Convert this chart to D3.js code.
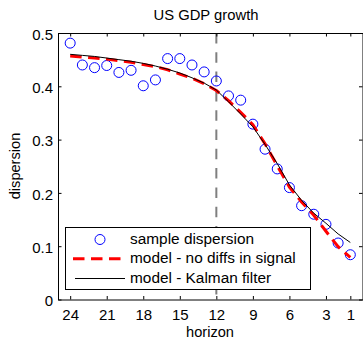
<!DOCTYPE html>
<html>
<head>
<meta charset="utf-8">
<script src="https://cdn.jsdelivr.net/npm/d3@7"></script>
<style>
  html, body { margin: 0; padding: 0; background: #fff; }
  svg { display: block; font-family: "Liberation Sans", Arial, Helvetica, sans-serif; }
</style>
</head>
<body>
<svg id="chart" width="363" height="339"></svg>
<script>
// ---- data ----
const title = "US GDP growth";
const xLabel = "horizon";
const yLabel = "dispersion";
const horizons = [24, 23, 22, 21, 20, 19, 18, 17, 16, 15, 14, 13, 12, 11, 10, 9, 8, 7, 6, 5, 4, 3, 2, 1];
const sampleDispersion = [0.481, 0.440, 0.435, 0.439, 0.426, 0.430, 0.401, 0.412, 0.452, 0.452, 0.440, 0.427,
                          0.410, 0.382, 0.374, 0.329, 0.282, 0.245, 0.210, 0.176, 0.160, 0.141, 0.106, 0.084];
const modelNoDiffs = [0.457, 0.455, 0.453, 0.451, 0.448, 0.445, 0.441, 0.437, 0.431, 0.423, 0.415, 0.405,
                      0.392, 0.373, 0.351, 0.328, 0.292, 0.251, 0.211, 0.183, 0.158, 0.128, 0.099, 0.079];
const modelKalman = [0.460, 0.458, 0.456, 0.453, 0.450, 0.447, 0.443, 0.438, 0.432, 0.425, 0.416, 0.406,
                     0.393, 0.371, 0.348, 0.324, 0.291, 0.255, 0.215, 0.186, 0.162, 0.143, 0.123, 0.107];
const xTicks = [24, 21, 18, 15, 12, 9, 6, 3, 1];
const yTicks = [0, 0.1, 0.2, 0.3, 0.4, 0.5];
const xDomain = [25, 0];
const yDomain = [0, 0.5];
const markerHorizon = 12;
const legendLabels = ["sample dispersion", "model - no diffs in signal", "model - Kalman filter"];

// ---- layout ----
const svg = d3.select("#chart");
const plotL = 58, plotR = 362.5, plotT = 33, plotB = 299.5;
const x = d3.scaleLinear().domain(xDomain).range([plotL, plotR]);
const y = d3.scaleLinear().domain(yDomain).range([plotB, plotT]);
const tickLen = 3.5;

// vertical dashed marker
svg.append("line")
  .attr("x1", x(markerHorizon)).attr("x2", x(markerHorizon))
  .attr("y1", y(yDomain[1])).attr("y2", y(yDomain[0]))
  .attr("stroke", "#7f7f7f").attr("stroke-width", 2)
  .attr("stroke-dasharray", "10.5,8.8");

// sample circles
svg.append("g").selectAll("circle")
  .data(horizons.map((h, i) => [h, sampleDispersion[i]]))
  .join("circle")
  .attr("cx", d => x(d[0])).attr("cy", d => y(d[1]))
  .attr("r", 5)
  .attr("fill", "none").attr("stroke", "#0000ff").attr("stroke-width", 1);

const line = d3.line().x(d => x(d[0])).y(d => y(d[1]));

svg.append("path")
  .datum(horizons.map((h, i) => [h, modelNoDiffs[i]]))
  .attr("d", line)
  .attr("fill", "none").attr("stroke", "#ff0000").attr("stroke-width", 3)
  .attr("stroke-dasharray", "11.5,6.5");

svg.append("path")
  .datum(horizons.map((h, i) => [h, modelKalman[i]]))
  .attr("d", line)
  .attr("fill", "none").attr("stroke", "#000").attr("stroke-width", 1);

// axes (box with inward ticks)
const axisFont = "15px";
const gB = svg.append("g").attr("transform", `translate(0,${plotB})`)
  .call(d3.axisBottom(x).tickValues(xTicks).tickSizeInner(-tickLen).tickSizeOuter(0).tickPadding(8));
const gT = svg.append("g").attr("transform", `translate(0,${plotT})`)
  .call(d3.axisTop(x).tickValues(xTicks).tickSizeInner(-tickLen).tickSizeOuter(0).tickFormat(""));
const gL = svg.append("g").attr("transform", `translate(${plotL},0)`)
  .call(d3.axisLeft(y).tickValues(yTicks).tickSizeInner(-tickLen).tickSizeOuter(0).tickPadding(5)
    .tickFormat(d => d === 0 ? "0" : d3.format(".1f")(d)));
const gR = svg.append("g").attr("transform", `translate(${plotR},0)`)
  .call(d3.axisRight(y).tickValues(yTicks).tickSizeInner(-tickLen).tickSizeOuter(0).tickFormat(""));

[gB, gT, gL, gR].forEach(g => {
  g.selectAll("path.domain").attr("stroke", "#000").attr("stroke-width", 1);
  g.selectAll(".tick line").attr("stroke", "#000").attr("stroke-width", 1);
  g.selectAll("text").attr("fill", "#000").style("font-size", axisFont)
    .style("font-family", '"Liberation Sans", Arial, sans-serif');
});
gB.selectAll(".tick text").attr("dy", null).attr("y", 20);
gL.selectAll(".tick text").attr("dy", "0.42em");

// title & labels
svg.append("text").attr("x", 206).attr("y", 20).attr("text-anchor", "middle")
  .style("font-size", "14.8px").attr("fill", "#000").text(title);
svg.append("text").attr("x", 210).attr("y", 336.5).attr("text-anchor", "middle")
  .style("font-size", "14.6px").attr("fill", "#000").text(xLabel);
svg.append("text").attr("transform", "translate(19.5,166) rotate(-90)").attr("text-anchor", "middle")
  .style("font-size", "14.6px").attr("fill", "#000").text(yLabel);

// legend
const lg = svg.append("g");
lg.append("rect").attr("x", 65.5).attr("y", 227.5).attr("width", 245).attr("height", 62)
  .attr("fill", "#fff").attr("stroke", "#000").attr("stroke-width", 1);
const rows = [244, 263.3, 283];
const textX = 130;
lg.append("circle").attr("cx", 100).attr("cy", rows[0] - 4.5).attr("r", 5)
  .attr("fill", "none").attr("stroke", "#0000ff").attr("stroke-width", 1);
lg.append("line").attr("x1", 73).attr("x2", 126).attr("y1", rows[1] - 4.5).attr("y2", rows[1] - 4.5)
  .attr("stroke", "#ff0000").attr("stroke-width", 3).attr("stroke-dasharray", "11.5,6.5");
lg.append("line").attr("x1", 75).attr("x2", 125).attr("y1", rows[2] - 4.5).attr("y2", rows[2] - 4.5)
  .attr("stroke", "#000").attr("stroke-width", 1);
legendLabels.forEach((t, i) => {
  lg.append("text").attr("x", textX).attr("y", rows[i]).style("font-size", "15.4px")
    .attr("fill", "#000").text(t);
});
</script>
</body>
</html>
